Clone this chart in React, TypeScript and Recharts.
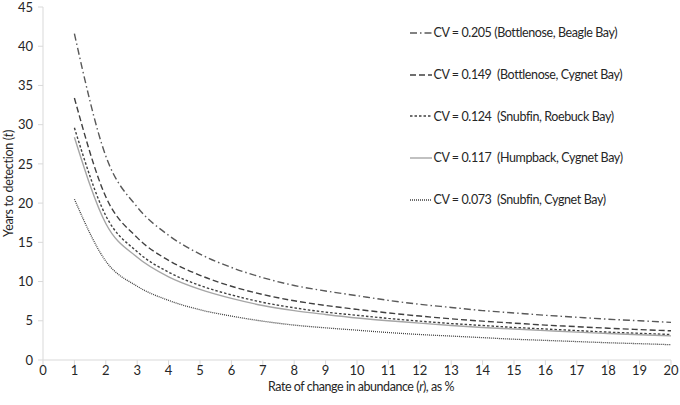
import React from "react";
import { LineChart, Line, XAxis, YAxis, Legend } from "recharts";

// rate of change in abundance (r, %)
const rates = [1, 2, 3, 4, 5, 6, 7, 8, 9, 10, 11, 12, 13, 14, 15, 16, 17, 18, 19, 20];

// years to detection (t) per CV scenario
const bottlenoseBeagle = [41.6, 26.0, 19.5, 15.9, 13.5, 11.8, 10.5, 9.5, 8.8, 8.2, 7.6, 7.1, 6.7, 6.3, 6.0, 5.7, 5.45, 5.2, 5.0, 4.8];
const bottlenoseCygnet = [33.4, 20.8, 15.6, 12.7, 10.8, 9.4, 8.35, 7.55, 6.95, 6.45, 6.0, 5.6, 5.25, 4.95, 4.7, 4.45, 4.25, 4.05, 3.88, 3.72];
const snubfinRoebuck = [29.6, 18.4, 13.8, 11.2, 9.5, 8.3, 7.35, 6.65, 6.1, 5.7, 5.3, 4.95, 4.65, 4.4, 4.15, 3.95, 3.75, 3.55, 3.4, 3.25];
const humpbackCygnet = [28.4, 17.4, 13.1, 10.6, 9.0, 7.85, 6.95, 6.3, 5.8, 5.35, 5.0, 4.7, 4.4, 4.15, 3.95, 3.75, 3.55, 3.38, 3.22, 3.08];
const snubfinCygnet = [20.5, 12.6, 9.4, 7.6, 6.4, 5.6, 4.95, 4.45, 4.1, 3.8, 3.5, 3.25, 3.05, 2.85, 2.65, 2.5, 2.35, 2.2, 2.08, 1.95];

const xTicks = [0, 1, 2, 3, 4, 5, 6, 7, 8, 9, 10, 11, 12, 13, 14, 15, 16, 17, 18, 19, 20];
const yTicks = [0, 5, 10, 15, 20, 25, 30, 35, 40, 45];

const FONT = "Lato, 'Open Sans', sans-serif";
const AXIS = "#d9d9d9";
const TEXT = "#262626";

const series = [
  { key: "bb", name: "CV = 0.205 (Bottlenose, Beagle Bay)", values: bottlenoseBeagle, color: "#595959", dash: "7 3 1.5 3", width: 1.4 },
  { key: "bc", name: "CV = 0.149  (Bottlenose, Cygnet Bay)", values: bottlenoseCygnet, color: "#404040", dash: "6 3", width: 1.4 },
  { key: "sr", name: "CV = 0.124  (Snubfin, Roebuck Bay)", values: snubfinRoebuck, color: "#404040", dash: "2.5 2", width: 1.4 },
  { key: "hc", name: "CV = 0.117  (Humpback, Cygnet Bay)", values: humpbackCygnet, color: "#a6a6a6", dash: undefined, width: 1.4 },
  { key: "sc", name: "CV = 0.073  (Snubfin, Cygnet Bay)", values: snubfinCygnet, color: "#404040", dash: "1 1", width: 1.3 },
];

const data = rates.map((r, i) => {
  const row: Record<string, number> = { r };
  series.forEach((s) => {
    row[s.key] = s.values[i];
  });
  return row;
});

function LegendBox() {
  return (
    <div style={{ fontFamily: FONT, fontSize: 12.5, letterSpacing: -0.4, color: TEXT }}>
      {series.map((s) => (
        <div key={s.key} style={{ height: 41.7, display: "flex", alignItems: "center" }}>
          <svg width={22} height={6} style={{ marginRight: 1.5 }}>
            <line x1={0} y1={3} x2={22} y2={3} stroke={s.color} strokeWidth={s.width} strokeDasharray={s.dash} />
          </svg>
          <span style={{ whiteSpace: "pre" }}>{s.name}</span>
        </div>
      ))}
    </div>
  );
}

function YLabel(props: any) {
  const vb = props.viewBox || {};
  const cx = 12.5;
  const cy = vb.y + vb.height / 2;
  return (
    <text
      x={cx}
      y={cy}
      transform={`rotate(-90, ${cx}, ${cy})`}
      textAnchor="middle"
      fill={TEXT}
      fontSize={12.5}
      letterSpacing={-0.3}
      fontFamily={FONT}
    >
      Years to detection (<tspan fontStyle="italic">t</tspan>)
    </text>
  );
}

function XLabel(props: any) {
  const vb = props.viewBox || {};
  const cx = vb.x + vb.width / 2 + 4;
  return (
    <text x={cx} y={391} textAnchor="middle" fill={TEXT} fontSize={12.5} letterSpacing={-0.45} fontFamily={FONT}>
      Rate of change in abundance (<tspan fontStyle="italic">r</tspan>), as %
    </text>
  );
}

export default function App() {
  return (
    <div style={{ position: "absolute", left: 0, top: 0, width: 680, height: 405, background: "#fff" }}>
      <LineChart width={680} height={405} data={data} margin={{ top: 7, right: 9, left: 8, bottom: 15 }}>
        <XAxis
          dataKey="r"
          type="number"
          domain={[0, 20]}
          ticks={xTicks}
          interval={0}
          height={30}
          stroke={AXIS}
          tickSize={5}
          tick={{ fill: TEXT, fontSize: 13, fontFamily: FONT }}
          tickMargin={1}
          label={<XLabel />}
        />
        <YAxis
          type="number"
          domain={[0, 45]}
          ticks={yTicks}
          interval={0}
          width={35}
          stroke={AXIS}
          tickSize={5}
          tick={{ fill: TEXT, fontSize: 13, fontFamily: FONT }}
          tickMargin={5}
          label={<YLabel />}
        />
        <Legend
          layout="horizontal"
          verticalAlign="middle"
          align="center"
          content={<LegendBox />}
          wrapperStyle={{ position: "absolute", top: 12, left: 410, width: 260 }}
        />
        {series.map((s) => (
          <Line
            key={s.key}
            dataKey={s.key}
            name={s.name}
            type="monotone"
            stroke={s.color}
            strokeWidth={s.width}
            strokeDasharray={s.dash}
            dot={false}
            activeDot={false}
            isAnimationActive={false}
          />
        ))}
      </LineChart>
    </div>
  );
}
